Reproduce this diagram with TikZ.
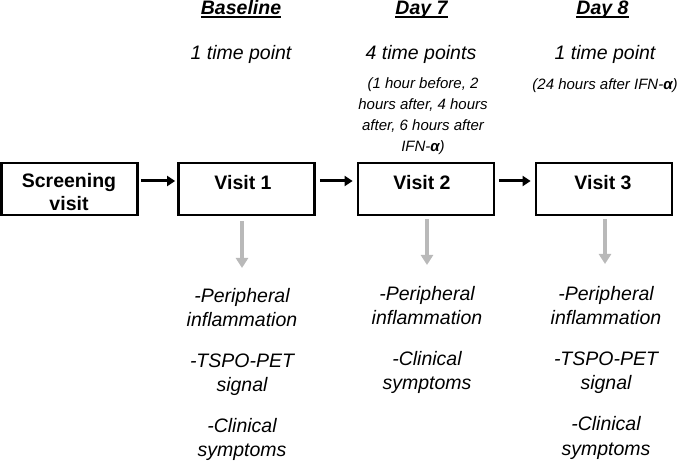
\documentclass[tikz,border=0pt]{standalone}
\usepackage{fontspec}
\setmainfont{Liberation Sans}
\usetikzlibrary{arrows.meta}
\newcommand\hdrul[1]{\setbox0\hbox{#1}\rlap{\rule[-2.6pt]{\wd0}{1.6pt}}\box0}
\newcommand\linesc[1]{\begin{tabular}[t]{@{}c@{}}#1\end{tabular}}
\begin{document}
\begin{tikzpicture}[x=1pt,y=-1pt,
  box/.style={draw=black, line width=2.7pt, minimum width=136pt, minimum height=52pt, inner sep=0pt, fill=white},
  boxtext/.style={anchor=base, inner sep=0pt, font=\fontsize{19.5}{23}\selectfont\bfseries},
  hdr/.style={anchor=base, inner sep=0pt, font=\fontsize{19.5}{24}\selectfont\bfseries\itshape},
  tpt/.style={anchor=base, inner sep=0pt, font=\fontsize{19.5}{24}\selectfont\itshape},
  paren/.style={anchor=base, inner sep=0pt, font=\fontsize{15}{21}\selectfont\itshape},
  outc/.style={anchor=base, inner sep=0pt, font=\fontsize{19.5}{24}\selectfont\itshape},
  blk/.style={line width=3pt, -{Triangle[length=8pt,width=10pt]}},
  gry/.style={draw={rgb,255:red,185;green,185;blue,185}, line width=3.5pt, -{Triangle[length=10pt,width=12pt]}}
]
\useasboundingbox (0,0) rectangle (685,462);

% headers
\node[hdr] (h1) at (241,15) {\hdrul{Baseline}};
\node[hdr] (h2) at (421.5,15) {\hdrul{Day 7}};
\node[hdr] (h3) at (602.5,15) {\hdrul{Day 8}};

\node[tpt] (t1) at (241,60) {1 time point};
\node[tpt] (t2) at (421,60) {4 time points};
\node[tpt] (t3) at (605,60) {1 time point};

\node[paren] (p2) at (423,89) {\linesc{(1 hour before, 2\\ hours after, 4 hours\\ after, 6 hours after\\ IFN-\textbf{α})}};
\node[paren] (p3) at (605,90) {(24 hours after IFN-\textbf{α})};

% boxes
\node[box] (sc) at (69.5,189) {};
\node[box] (v1) at (246.5,189) {};
\node[box] (v2) at (426,189) {};
\node[box] (v3) at (604,189) {};

\node[boxtext] (sct) at (69,188) {\linesc{Screening\\ visit}};
\node[boxtext] (v1t) at (243,190) {Visit 1};
\node[boxtext] (v2t) at (422,190) {Visit 2};
\node[boxtext] (v3t) at (603,190) {Visit 3};

% black arrows
\draw[blk, shorten <=2pt, shorten >=2pt] ([yshift=8pt]sc.east) -- ([yshift=8pt]v1.west);
\draw[blk, shorten <=4pt, shorten >=4pt] ([yshift=8pt]v1.east) -- ([yshift=8pt]v2.west);
\draw[blk, shorten <=4pt, shorten >=4pt] ([yshift=8pt]v2.east) -- ([yshift=8pt]v3.west);

% outcomes
\node[outc] (o1) at (242,302) {\linesc{-Peripheral\\ inflammation\\[17pt] -TSPO-PET\\ signal\\[17pt] -Clinical\\ symptoms}};
\node[outc] (o2) at (427,301) {\linesc{-Peripheral\\ inflammation\\[17pt] -Clinical\\ symptoms}};
\node[outc] (o3) at (606,301) {\linesc{-Peripheral\\ inflammation\\[17pt] -TSPO-PET\\ signal\\[17pt] -Clinical\\ symptoms}};

% gray arrows
\coordinate (g1) at (242,268);
\coordinate (g2) at (427,265);
\coordinate (g3) at (605,264);
\draw[gry] ([xshift=-4.5pt,yshift=-5pt]v1.south) -- (g1);
\draw[gry] ([xshift=1pt,yshift=-3pt]v2.south) -- (g2);
\draw[gry] ([xshift=1pt,yshift=-3pt]v3.south) -- (g3);
\end{tikzpicture}
\end{document}
